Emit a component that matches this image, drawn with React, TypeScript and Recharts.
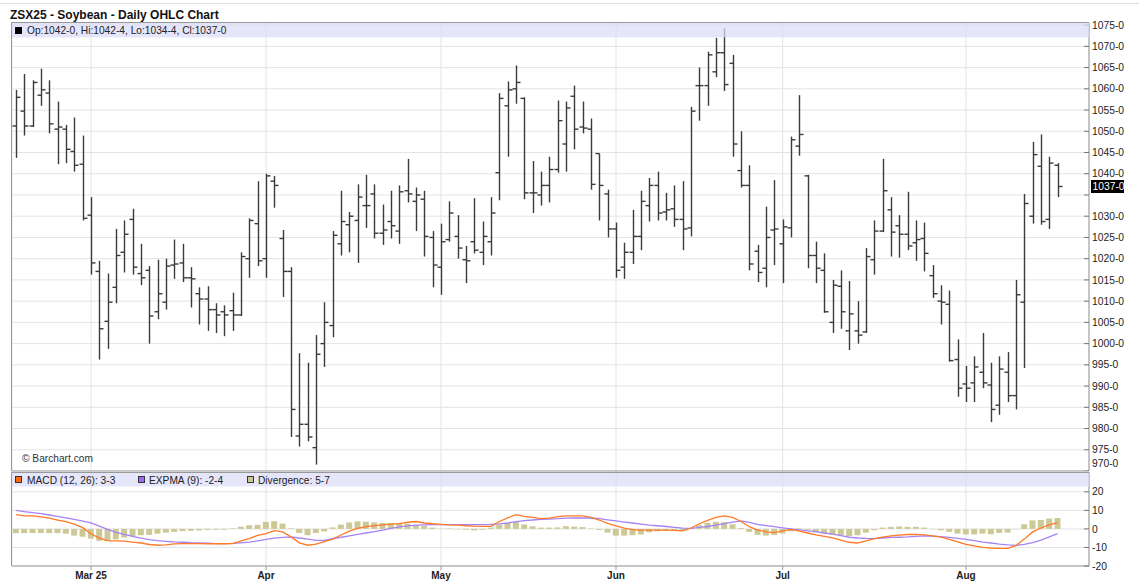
import React from 'react';
import { ComposedChart, Bar, Line, XAxis, YAxis, CartesianGrid, ReferenceLine } from 'recharts';

const FONT = '"Liberation Sans", Arial, Helvetica, sans-serif';

// x positions (trading-day index) of the month labels
const dateTicks = [9, 30, 51, 72, 92, 114];
const dateLabels = ['Mar 25', 'Apr', 'May', 'Jun', 'Jul', 'Aug'];

const priceTicks = [970, 975, 980, 985, 990, 995, 1000, 1005, 1010, 1015, 1020, 1025, 1030, 1035, 1040, 1045, 1050, 1055, 1060, 1065, 1070, 1075];
const macdTicks = [-20, -10, 0, 10, 20];

const opens = [
  1051.25, 1054.75, 1051.25, 1058.5, 1059, 1050.5, 1050.5, 1045.25, 1042.25, 1030.25,
  1017, 1005.25, 1013.25, 1021.5, 1029.25, 1016.5, 1017.25, 1007.5, 1009.75, 1018.5,
  1019, 1015.5, 1011.75, 1010.5, 1008, 1007.5, 1007.75, 1006.75, 1020, 1028.25,
  1020, 1038.25, 1024.75, 1017, 978.25, 981, 975.5, 1000, 1004.25, 1023.5,
  1028, 1029, 1032.5, 1035.25, 1026, 1028.75, 1026.5, 1036, 1033.5, 1034,
  1025, 1018, 1024.5, 1025.25, 1019.75, 1024, 1021.5, 1024, 1040.25, 1056,
  1060, 1057.75, 1035.5, 1035, 1037.25, 1041, 1047, 1058.25, 1051, 1050.5,
  1044.75, 1035.25, 1027, 1018, 1021.5, 1025.25, 1032.5, 1037.25, 1031, 1031.75,
  1029.25, 1027.25, 1060.75, 1060.75, 1064, 1068.5, 1066, 1040.75, 1037.25, 1021.75,
  1017.75, 1026.75, 1023.5, 1027.25, 1046.5, 1039.5, 1020.75, 1017.25, 1005, 1013.5,
  1003, 1003, 1002.75, 1019.75, 1026.5, 1031.5, 1027.75, 1025.75, 1023.75, 1024.75,
  1016, 1010, 1009.25, 996.25, 990.5, 990.75, 993.25, 990.25, 985.5, 993.25,
  987.75, 1009.75, 1030, 1041.75, 1029.25, 1042,
];

const highs = [
  1059.75, 1063.5, 1062, 1064.75, 1062, 1057, 1051.5, 1053.25, 1049, 1034.5,
  1019.5, 1016.5, 1027, 1029, 1031.75, 1023.5, 1018.25, 1019.75, 1020, 1024.5,
  1023.5, 1018, 1013.25, 1013.5, 1009.5, 1009, 1012, 1021.5, 1029.5, 1038.25,
  1040, 1039.5, 1026.75, 1018, 997.75, 995.5, 1002, 1009.75, 1026.5, 1036,
  1031, 1037.5, 1039.75, 1037.5, 1032.75, 1036, 1037.25, 1043.5, 1036.75, 1036,
  1026.5, 1028.25, 1033.5, 1030.25, 1023, 1034.25, 1028.75, 1034.5, 1059, 1061.75,
  1065.5, 1058, 1043, 1040.5, 1044, 1057.25, 1057, 1060.75, 1057, 1053,
  1044.75, 1036.25, 1028.5, 1023.75, 1031.5, 1036, 1039, 1040.5, 1035.5, 1037.25,
  1038.25, 1055.75, 1065, 1068.75, 1072, 1074.25, 1068, 1050, 1042, 1023.25,
  1032.25, 1038.5, 1029.25, 1048.75, 1058.5, 1039.75, 1024, 1021.25, 1015, 1017.25,
  1014.75, 1010, 1022.5, 1029, 1043.5, 1034.5, 1030.25, 1035.75, 1029, 1028.5,
  1018.5, 1013.75, 1012.5, 1001, 994.75, 997, 1002.5, 995.5, 997, 998,
  1015, 1035.25, 1047.5, 1049.25, 1044, 1042.5,
];

const lows = [
  1043.75, 1049, 1051, 1056, 1049.5, 1042.25, 1042.5, 1040.5, 1029, 1016.25,
  996.25, 998.75, 1009.5, 1016.75, 1016.25, 1013.75, 1000, 1005.75, 1008, 1015.25,
  1014.5, 1008.5, 1004.5, 1003, 1002.5, 1001.75, 1003, 1006.5, 1015.5, 1018.25,
  1015.5, 1032, 1011, 978, 975.75, 977, 971.5, 994.5, 1001.5, 1020.75,
  1021.5, 1019, 1027.25, 1024.75, 1023.25, 1024.75, 1023.5, 1033.25, 1026.5, 1020.5,
  1013.25, 1011.5, 1024, 1020, 1014.25, 1021.25, 1018.5, 1020.75, 1033.75, 1044,
  1056.5, 1034, 1030.75, 1032.5, 1033.25, 1040.25, 1040.5, 1045.75, 1049.5, 1036.25,
  1029, 1025, 1015.5, 1015.25, 1018.75, 1022, 1028.75, 1029, 1029, 1027.5,
  1022, 1025.25, 1052.5, 1056, 1062.75, 1059.5, 1044, 1036.75, 1017.25, 1014.5,
  1013.25, 1018.5, 1014.25, 1025, 1044.25, 1017.75, 1014.25, 1007.25, 1002.5, 1003.5,
  998.5, 1000, 1002.5, 1016.25, 1026.25, 1020.5, 1020.25, 1022, 1019.5, 1017,
  1010.75, 1004.5, 995.75, 987.5, 986.25, 986.25, 989.5, 981.5, 983.25, 986.25,
  984.5, 994.25, 1028.25, 1028, 1027, 1034.5,
];

const closes = [
  1058, 1051.25, 1061.5, 1059.75, 1051.75, 1051, 1045.75, 1042, 1029.5, 1019,
  1003.5, 1009.75, 1020.75, 1025.75, 1018, 1015.5, 1006.5, 1011.75, 1018.25, 1018.75,
  1015.5, 1015.25, 1010.5, 1008, 1006.75, 1006.75, 1006.75, 1020.5, 1029, 1019.5,
  1039.5, 1037.25, 1017, 984.5, 981, 978, 997.5, 1005, 1025.5, 1028.75,
  1030, 1034.5, 1032.5, 1026, 1026.75, 1027.75, 1035.75, 1035.25, 1035, 1025.25,
  1018.5, 1024, 1030.75, 1022.5, 1019.5, 1022, 1025.25, 1030.75, 1057.75, 1059.75,
  1061.5, 1035.5, 1035.5, 1037.25, 1041, 1052.5, 1055.5, 1050.5, 1050.75, 1037.5,
  1037.25, 1027, 1017.25, 1021.5, 1025.25, 1033.5, 1037.25, 1030.75, 1031.5, 1029.25,
  1027, 1054.75, 1060.75, 1068, 1068.5, 1061, 1047, 1037.25, 1018.75, 1016.75,
  1025, 1027, 1027.5, 1048, 1049.25, 1020.75, 1017.75, 1007.5, 1013.75, 1007.5,
  1007, 1002, 1020.5, 1026.5, 1036, 1026.25, 1025.75, 1023, 1024.5, 1021.25,
  1011.75, 1009.75, 996, 989.5, 989.5, 994.5, 990.75, 984.5, 994, 987.75,
  1011.5, 1033, 1044.5, 1028.75, 1042.5, 1037,
];

const macdLine = [
  7.7, 7.0, 7.0, 6.5, 5.8, 4.8, 3.9, 2.6, 0.7, -2.6,
  -5.0, -6.3, -6.5, -6.6, -7.1, -7.6, -8.4, -8.8, -8.6, -8.1,
  -7.9, -7.9, -7.9, -8.0, -8.0, -8.0, -7.9, -6.4, -5.2, -3.5,
  -2.5, -0.9, -1.6, -4.3, -7.5, -8.8, -8.2, -6.8, -5.5, -3.3,
  -1.2, 0.3, 1.2, 1.8, 2.2, 2.6, 2.9, 3.6, 4.0, 3.2,
  2.8, 2.5, 2.2, 2.0, 1.7, 1.5, 1.4, 1.4, 4.0, 6.0,
  7.7, 6.8, 6.2, 5.6, 5.8, 6.6, 7.0, 7.0, 7.0, 6.2,
  4.8, 3.0, 1.6, 0.4, -0.4, -0.6, -0.7, -0.7, -0.7, -0.8,
  -1.1, 0.5, 2.8, 4.6, 6.2, 7.0, 6.2, 4.0, 1.2, -0.6,
  -1.6, -2.0, -1.0, -0.2, -1.2, -2.2, -3.2, -4.0, -4.8, -6.0,
  -7.2, -7.6, -6.4, -5.2, -4.4, -3.7, -3.3, -3.0, -2.9, -3.2,
  -3.8, -4.4, -5.6, -7.0, -8.3, -9.2, -10.0, -10.3, -10.5, -10.5,
  -9.0, -5.5, -1.6, 0.5, 2.2, 3.375,
];

const expmaLine = [
  10.0, 9.3, 8.8, 8.2, 7.5, 6.8, 6.0, 5.1, 4.2, 3.2,
  1.5, -0.2, -1.8, -3.0, -4.0, -5.0, -5.8, -6.3, -6.7, -7.0,
  -7.2, -7.4, -7.5, -7.7, -7.9, -7.9, -7.8, -7.5, -7.1, -6.4,
  -5.6, -5.0, -4.6, -4.3, -4.9, -5.5, -6.2, -6.2, -5.3, -4.5,
  -3.7, -3.0, -2.2, -1.4, -0.6, 0.3, 1.1, 1.6, 2.0, 2.2,
  2.3, 2.3, 2.3, 2.3, 2.3, 2.3, 2.3, 2.4, 2.7, 3.2,
  3.9, 4.5, 4.8, 5.1, 5.3, 5.5, 5.8, 5.9, 5.9, 5.9,
  5.5, 4.9, 4.3, 3.7, 3.2, 2.6, 2.1, 1.7, 1.3, 0.8,
  0.4, 0.3, 0.8, 1.3, 2.1, 2.9, 3.7, 4.3, 3.5, 2.5,
  1.8, 1.2, 0.6, 0.0, -0.5, -1.0, -1.5, -2.2, -2.8, -3.6,
  -4.5, -4.9, -5.1, -5.2, -4.9, -4.6, -4.5, -4.3, -4.0, -3.8,
  -3.9, -4.2, -4.6, -5.1, -5.6, -6.3, -7.1, -7.6, -8.2, -8.6,
  -8.9, -8.3, -7.4, -6.0, -4.3, -2.5,
];

const divergence = [
  -2.3, -2.3, -2.2, -2.2, -2.3, -2.3, -2.6, -3.6, -4.2, -5.2,
  -6.4, -6.6, -5.6, -4.6, -3.9, -3.4, -3.2, -2.6, -2.0, -1.6,
  -1.2, -1.0, -0.8, -0.6, -0.5, -0.4, 0.3, 1.2, 2.0, 2.2,
  3.8, 4.2, 2.9, 0.3, -2.2, -3.4, -2.2, -1.4, 0.8, 2.3,
  3.5, 4.1, 3.9, 3.5, 3.2, 3.2, 2.9, 2.8, 2.0, 1.5,
  0.7, 0.1, 0.2, -0.2, -0.4, -0.8, -0.4, 0.7, 2.3, 3.2,
  3.8, 2.4, 1.4, 0.7, 0.7, 0.8, 1.5, 1.2, 1.0, 0.2,
  -0.5, -2.0, -3.6, -3.6, -3.4, -3.0, -1.8, -1.3, -1.1, -1.1,
  -0.7, 0.5, 2.0, 3.2, 3.8, 3.6, 2.5, 0.5, -1.6, -3.2,
  -3.6, -3.2, -2.5, -1.3, 0.3, -0.5, -1.8, -2.5, -3.0, -3.4,
  -3.8, -3.4, -2.0, -0.7, 0.7, 1.1, 1.3, 1.1, 1.1, 0.7,
  -0.2, -0.7, -1.6, -2.5, -3.0, -3.0, -2.5, -2.9, -2.2, -2.0,
  -0.2, 2.5, 4.6, 4.8, 5.6, 5.875,
];

const X_DOMAIN: [number, number] = [-0.48, 128.76];
const PRICE_DOMAIN: [number, number] = [970, 1075.5];
const CHART_W = 1139;
const AXIS_W = 50;
const LEFT = 12;

const ohlcData = opens.map((o, i) => ({
  i,
  open: o,
  high: highs[i],
  low: lows[i],
  close: closes[i],
  range: [lows[i], highs[i]],
}));

const macdData = macdLine.map((m, i) => ({ i, macd: m, expma: expmaLine[i], div: divergence[i] }));

const last = ohlcData.length - 1;
const lastClose = closes[last];

// Barchart grain quote format: whole-eighths
const fmt8 = (v: number) => {
  const s = v < 0 ? '-' : '';
  const a = Math.abs(v);
  const w = Math.floor(a + 1e-9);
  const f = Math.round((a - w) * 8);
  return `${s}${w}-${f}`;
};

const OhlcShape = (props: any) => {
  const { x, y, width, height, payload } = props;
  if (!payload || x == null) return null;
  const top = Math.min(y, y + height);
  const h = Math.abs(height);
  const cx = Math.round(x + width / 2) + 0.5;
  const span = payload.high - payload.low || 1;
  const py = (v: number) => top + ((payload.high - v) / span) * h;
  return (
    <g stroke="#3a3a3a" strokeWidth={1.4}>
      <line x1={cx} x2={cx} y1={top} y2={top + h} />
      <line x1={cx - 4} x2={cx} y1={py(payload.open)} y2={py(payload.open)} />
      <line x1={cx} x2={cx + 4} y1={py(payload.close)} y2={py(payload.close)} />
    </g>
  );
};

const PriceTick = (props: any) => {
  const { x, y, payload } = props;
  const v = payload.value;
  const hide = Math.abs(v - lastClose) < 3;
  // the lowest label is lifted so it stays inside the price panel
  const lift = v === PRICE_DOMAIN[0] ? -7.5 : 0;
  return (
    <g>
      <line x1={x - 5} x2={x} y1={y} y2={y} stroke="#777" />
      {!hide && (
        <text x={x + 3} y={y + lift} dy="0.35em" fontSize={10.3} fill="#222" fontFamily={FONT}>
          {`${v}-0`}
        </text>
      )}
    </g>
  );
};

const MacdTick = (props: any) => {
  const { x, y, payload } = props;
  return (
    <g>
      <line x1={x - 5} x2={x} y1={y} y2={y} stroke="#777" />
      <text x={x + 3} y={y} dy="0.35em" fontSize={10.3} fill="#222" fontFamily={FONT}>
        {`${payload.value}`}
      </text>
    </g>
  );
};

const CloseLabel = (props: any) => {
  const vb = props.viewBox || {};
  const x0 = (vb.x || 0) + (vb.width || 0) + 2;
  const y0 = vb.y || 0;
  return (
    <g>
      <rect x={x0} y={y0 - 6.5} width={33} height={13} fill="#000" />
      <text x={x0 + 1.5} y={y0} dy="0.35em" fontSize={10.3} fill="#fff" fontFamily={FONT}>
        {fmt8(lastClose)}
      </text>
    </g>
  );
};

const ohlcLegend = `Op:${fmt8(opens[last])}, Hi:${fmt8(highs[last])}, Lo:${fmt8(lows[last])}, Cl:${fmt8(closes[last])}`;

export default function App() {
  return (
    <div style={{ position: 'absolute', left: 0, top: 0, width: 1139, height: 584, background: '#fff', fontFamily: FONT, overflow: 'hidden' }}>
      <div style={{ position: 'absolute', left: 0, top: 0 }}>
        <ComposedChart width={CHART_W} height={471} data={ohlcData} margin={{ top: 23, right: 0, bottom: 0, left: LEFT }}>
          <CartesianGrid stroke="#e4e4e4" />
          <XAxis type="number" dataKey="i" domain={X_DOMAIN} ticks={dateTicks} allowDataOverflow hide />
          <YAxis
            orientation="right"
            type="number"
            domain={PRICE_DOMAIN}
            ticks={priceTicks}
            interval={0}
            allowDataOverflow
            width={AXIS_W}
            tickSize={0}
            tickMargin={0}
            stroke="#999"
            tick={<PriceTick />}
          />
          <Bar dataKey="range" barSize={8} shape={<OhlcShape />} isAnimationActive={false} />
          <ReferenceLine y={lastClose} stroke="none" label={<CloseLabel />} ifOverflow="visible" />
        </ComposedChart>
      </div>
      <div style={{ position: 'absolute', left: 0, top: 472 }}>
        <ComposedChart width={CHART_W} height={112} data={macdData} margin={{ top: 0, right: 0, bottom: 0, left: LEFT }}>
          <CartesianGrid stroke="#e4e4e4" />
          <XAxis
            type="number"
            dataKey="i"
            domain={X_DOMAIN}
            ticks={dateTicks}
            interval={0}
            allowDataOverflow
            height={18}
            tickSize={4}
            stroke="#999"
            tickFormatter={(v: number) => dateLabels[dateTicks.indexOf(v)] || ''}
            tick={{ fontSize: 10, fontWeight: 'bold', fill: '#222', fontFamily: FONT }}
          />
          <YAxis
            orientation="right"
            type="number"
            domain={[-20, 30.7]}
            ticks={macdTicks}
            interval={0}
            allowDataOverflow
            width={AXIS_W}
            tickSize={0}
            tickMargin={0}
            stroke="#999"
            tick={<MacdTick />}
          />
          <Bar dataKey="div" barSize={6} fill="#cdc996" isAnimationActive={false} />
          <Line type="linear" dataKey="expma" stroke="#a683f5" strokeWidth={1.3} dot={false} isAnimationActive={false} />
          <Line type="linear" dataKey="macd" stroke="#ff7a26" strokeWidth={1.3} dot={false} isAnimationActive={false} />
        </ComposedChart>
      </div>
      <svg width={1139} height={584} style={{ position: 'absolute', left: 0, top: 0, pointerEvents: 'none' }}>
        <line x1={0} x2={1139} y1={3.5} y2={3.5} stroke="#dddddd" />
        <text x={10} y={18.5} fontSize={12} fontWeight="bold" fill="#111" fontFamily={FONT}>
          ZSX25 - Soybean - Daily OHLC Chart
        </text>
        {/* price panel border & legend band */}
        <line x1={11.5} x2={11.5} y1={22.5} y2={471} stroke="#999" />
        <line x1={11.5} x2={1089} y1={22.5} y2={22.5} stroke="#999" />
        <line x1={11.5} x2={1089} y1={471} y2={471} stroke="#999" />
        <rect x={12} y={23} width={1077} height={14.5} fill="#dcdcfa" fillOpacity={0.72} />
        <rect x={15} y={27} width={7} height={7} fill="#000" />
        <text x={27} y={34.3} fontSize={10.2} fill="#222" fontFamily={FONT}>{ohlcLegend}</text>
        <text x={22} y={461.5} fontSize={10.2} fill="#333" fontFamily={FONT}>© Barchart.com</text>
        {/* macd panel border & legend band */}
        <line x1={11.5} x2={11.5} y1={472.5} y2={566} stroke="#999" />
        <line x1={11.5} x2={1089} y1={472.5} y2={472.5} stroke="#999" />
        <rect x={12} y={473} width={1077} height={13.5} fill="#dcdcfa" fillOpacity={0.72} />
        <rect x={15.5} y={476.5} width={6} height={6} fill="#ff6a10" stroke="#333" strokeWidth={1} />
        <text x={27} y={483.5} fontSize={10.2} fill="#222" fontFamily={FONT}>{`MACD (12, 26): ${fmt8(macdLine[last])}`}</text>
        <rect x={138.5} y={476.5} width={6} height={6} fill="#9a6cf5" stroke="#333" strokeWidth={1} />
        <text x={149} y={483.5} fontSize={10.2} fill="#222" fontFamily={FONT}>{`EXPMA (9): ${fmt8(expmaLine[last])}`}</text>
        <rect x={247.5} y={476.5} width={6} height={6} fill="#cdc996" stroke="#333" strokeWidth={1} />
        <text x={258} y={483.5} fontSize={10.2} fill="#222" fontFamily={FONT}>{`Divergence: ${fmt8(divergence[last])}`}</text>
      </svg>
    </div>
  );
}
